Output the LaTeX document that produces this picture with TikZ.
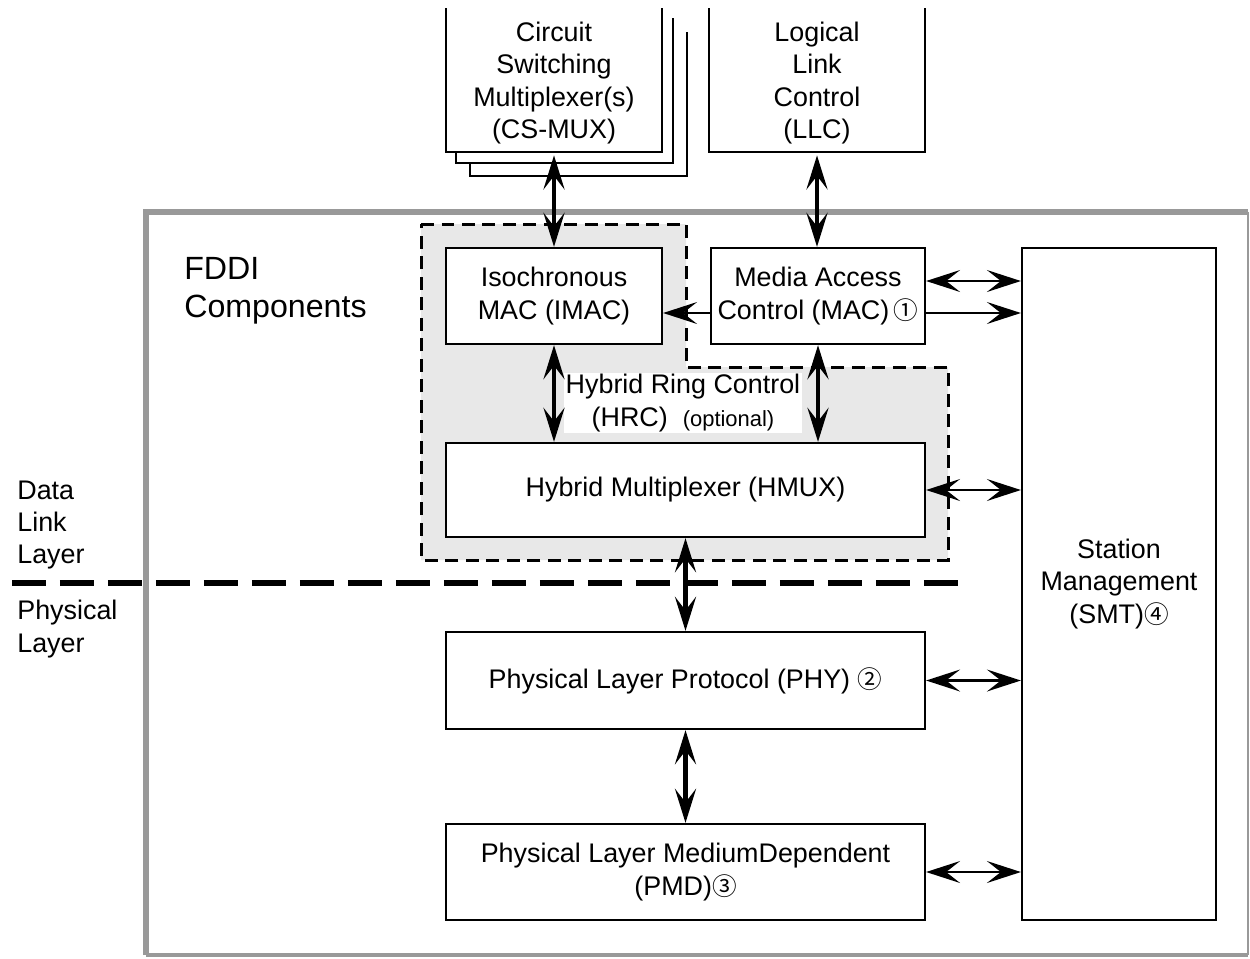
\documentclass[tikz,border=0pt]{standalone}
\usepackage{fontspec}
\setmainfont{Liberation Sans}
\newfontfamily\circfont{Noto Sans CJK JP}
\usepackage{tikz}
\usetikzlibrary{arrows.meta}

\newcommand{\circnum}[1]{{\circfont\fontsize{14}{14}\selectfont #1}}

\begin{document}
\begin{tikzpicture}[x=0.02cm, y=-0.02cm,
    font=\fontsize{15.3}{18.4}\selectfont,
    box/.style={draw, line width=1.3pt, fill=white, align=center, inner sep=2pt},
    openbox/.style={align=center, inner sep=0pt},
    frame/.style={draw=black!40, line width=3.2pt},
    hrc/.style={draw, dash pattern=on 0.26cm off 0.15cm, line width=1.7pt, fill=black!9},
    layerline/.style={line width=3.4pt, dash pattern=on 0.68cm off 0.28cm},
    bigarrow/.style={line width=2.7pt, {Stealth[length=6.8mm, width=4.2mm, inset=2.7mm]}-{Stealth[length=6.8mm, width=4.2mm, inset=2.7mm]}},
    dbl/.style={line width=1.2pt, {Stealth[length=6.8mm, width=4.4mm, inset=2.8mm]}-{Stealth[length=6.8mm, width=4.4mm, inset=2.8mm]}},
    sgl/.style={line width=1.2pt, -{Stealth[length=6.8mm, width=4.4mm, inset=2.8mm]}}]

  \useasboundingbox (0,0) rectangle (1250,958);

  \draw[frame] (146,955) -- (146,212) -- (1248,212);
  \draw[frame, line width=1pt] (1248,212) -- (1248,955);
  \draw[frame, line width=2.6pt] (1248,955) -- (146,955);

  \draw[hrc] (421,224) -- (686,224) -- (686,367) -- (948,367) -- (948,560) -- (421,560) -- cycle;

  \draw[line width=1.3pt] (470,163) -- (470,176) -- (687,176) -- (687,32);
  \draw[line width=1.3pt] (456,152) -- (456,163) -- (673,163) -- (673,18);
  \node[openbox, minimum width=4.32cm, minimum height=2.88cm] (csmux) at (554,83)
    {Circuit\\Switching\\Multiplexer(s)\\(CS-MUX)};
  \draw[line width=1.3pt] (446,8) -- (446,152) -- (662,152) -- (662,8);

  \node[openbox, minimum width=4.32cm, minimum height=2.88cm] (llc) at (817,83)
    {Logical\\Link\\Control\\(LLC)};
  \draw[line width=1.3pt] (709,8) -- (709,152) -- (925,152) -- (925,8);

  \node[box, minimum width=4.32cm, minimum height=1.92cm] (imac) at (554,296) {Isochronous\\MAC (IMAC)};
  \node[box, minimum width=4.28cm, minimum height=1.92cm] (mac) at (818,296) {Media Access\\Control (MAC)\,\circnum{①}};
  \node[box, minimum width=3.88cm, minimum height=13.44cm] (smt) at (1119,584) {Station\\Management\\(SMT)\circnum{④}};
  \node[box, minimum width=9.58cm, minimum height=1.88cm] (hmux) at (685.5,490) {Hybrid Multiplexer (HMUX)};
  \node[box, minimum width=9.58cm, minimum height=1.94cm] (phy) at (685.5,680.5) {Physical Layer Protocol (PHY) \circnum{②}};
  \node[box, minimum width=9.58cm, minimum height=1.92cm] (pmd) at (685.5,872) {Physical Layer MediumDependent\\(PMD)\circnum{③}};

  \node[fill=white, align=center, inner sep=1pt] (hrclabel) at (683,403)
    {Hybrid Ring Control\\(HRC)\ \ {\fontsize{12.5}{15}\selectfont(optional)}};

  \node[anchor=west, align=left, font=\fontsize{18.3}{21.5}\selectfont, inner sep=0pt] (fddi) at (184,291) {FDDI\\Components};
  \node[anchor=west, align=left, inner sep=0pt] (dll) at (17,525) {Data\\Link\\Layer};
  \node[anchor=west, align=left, inner sep=0pt] (pl) at (17,629) {Physical\\Layer};

  \draw[layerline] (12,583) -- (958,583);

  \draw[bigarrow] (csmux.south) -- (imac.north);
  \draw[bigarrow] (llc.south) -- (llc.south |- mac.north);
  \draw[bigarrow] (imac.south) -- (imac.south |- hmux.north);
  \draw[bigarrow] (mac.south) -- (mac.south |- hmux.north);
  \draw[bigarrow] (hmux.south) -- (phy.north);
  \draw[bigarrow] (phy.south) -- (pmd.north);

  \draw[sgl] ([yshift=-0.34cm]mac.west) -- ([yshift=-0.34cm]mac.west -| imac.east);
  \draw[dbl] ([yshift=0.3cm]mac.east) -- ([yshift=0.3cm]mac.east -| smt.west);
  \draw[sgl] ([yshift=-0.34cm]mac.east) -- ([yshift=-0.34cm]mac.east -| smt.west);
  \draw[dbl] (hmux.east) -- (hmux.east -| smt.west);
  \draw[dbl] (phy.east) -- (phy.east -| smt.west);
  \draw[dbl] (pmd.east) -- (pmd.east -| smt.west);

\end{tikzpicture}
\end{document}
